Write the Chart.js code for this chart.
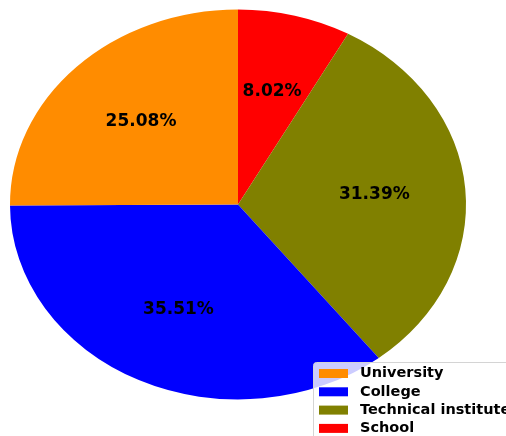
<!DOCTYPE html>
<html lang="en">
<head>
  <meta charset="UTF-8" />
  <title>Education level</title>
  <script src="https://cdn.jsdelivr.net/npm/chart.js"></script>
  <style>
    html, body {
      margin: 0;
      padding: 0;
      background: #ffffff;
    }
    #wrap {
      width: 506px;
      height: 436px;
    }
  </style>
</head>
<body>
  <div id="wrap"><canvas id="pie" width="506" height="436"></canvas></div>

  <script>
    // clockwise from 12 o'clock
    const categories = ['School', 'Technical institute', 'College', 'University'];
    const shares = [8.02, 31.39, 35.51, 25.08];
    const colours = ['#ff0000', '#808000', '#0000ff', '#ff8c00'];

    // pie is drawn as an ellipse: horizontal radius / vertical radius
    const stretchX = 228 / 195;

    const ellipse = {
      id: 'ellipse',
      beforeDatasetsDraw(chart) {
        const arc = chart.getDatasetMeta(0).data[0];
        const ctx = chart.ctx;
        ctx.save();
        ctx.translate(arc.x, arc.y);
        ctx.scale(stretchX, 1);
        ctx.translate(-arc.x, -arc.y);
      },
      afterDatasetsDraw(chart) {
        chart.ctx.restore();
      }
    };

    const pctLabels = {
      id: 'pctLabels',
      afterDraw(chart) {
        const ctx = chart.ctx;
        ctx.save();
        ctx.font = 'bold 17px "DejaVu Sans"';
        ctx.fillStyle = '#000000';
        ctx.textAlign = 'center';
        ctx.textBaseline = 'middle';
        chart.getDatasetMeta(0).data.forEach((arc, i) => {
          const mid = (arc.startAngle + arc.endAngle) / 2;
          const r = arc.outerRadius * 0.6;
          const x = arc.x + Math.cos(mid) * r * stretchX;
          const y = arc.y + Math.sin(mid) * r;
          ctx.fillText(chart.data.datasets[0].data[i].toFixed(2) + '%', x, y);
        });
        ctx.restore();
      }
    };

    const boxLegend = {
      id: 'boxLegend',
      afterDraw(chart) {
        const ctx = chart.ctx;
        const left = 313, top = 362;
        ctx.save();
        ctx.beginPath();
        ctx.roundRect(left + 0.5, top + 0.5, 220, 100, 3);
        ctx.fillStyle = 'rgba(255, 255, 255, 0.8)';
        ctx.fill();
        ctx.strokeStyle = '#d4d4d4';
        ctx.lineWidth = 1;
        ctx.stroke();

        ctx.font = 'bold 14.5px "DejaVu Sans"';
        ctx.textBaseline = 'middle';
        ctx.textAlign = 'left';
        const n = chart.data.labels.length;
        for (let k = 0; k < n; k++) {
          const i = n - 1 - k;
          const y = 373.5 + k * 18.3;
          ctx.fillStyle = chart.data.datasets[0].backgroundColor[i];
          ctx.fillRect(319, y - 4.5, 29, 9);
          ctx.fillStyle = '#000000';
          ctx.fillText(chart.data.labels[i], 360, y);
        }
        ctx.restore();
      }
    };

    new Chart(document.getElementById('pie'), {
      type: 'pie',
      data: {
        labels: categories,
        datasets: [{
          data: shares,
          backgroundColor: colours,
          borderWidth: 0,
          clip: false
        }]
      },
      options: {
        responsive: false,
        animation: false,
        layout: {
          padding: { left: 43, right: 73, top: 9.5, bottom: 36.5 }
        },
        plugins: {
          legend: { display: false },
          tooltip: { enabled: false }
        }
      },
      plugins: [ellipse, pctLabels, boxLegend]
    });
  </script>
</body>
</html>
